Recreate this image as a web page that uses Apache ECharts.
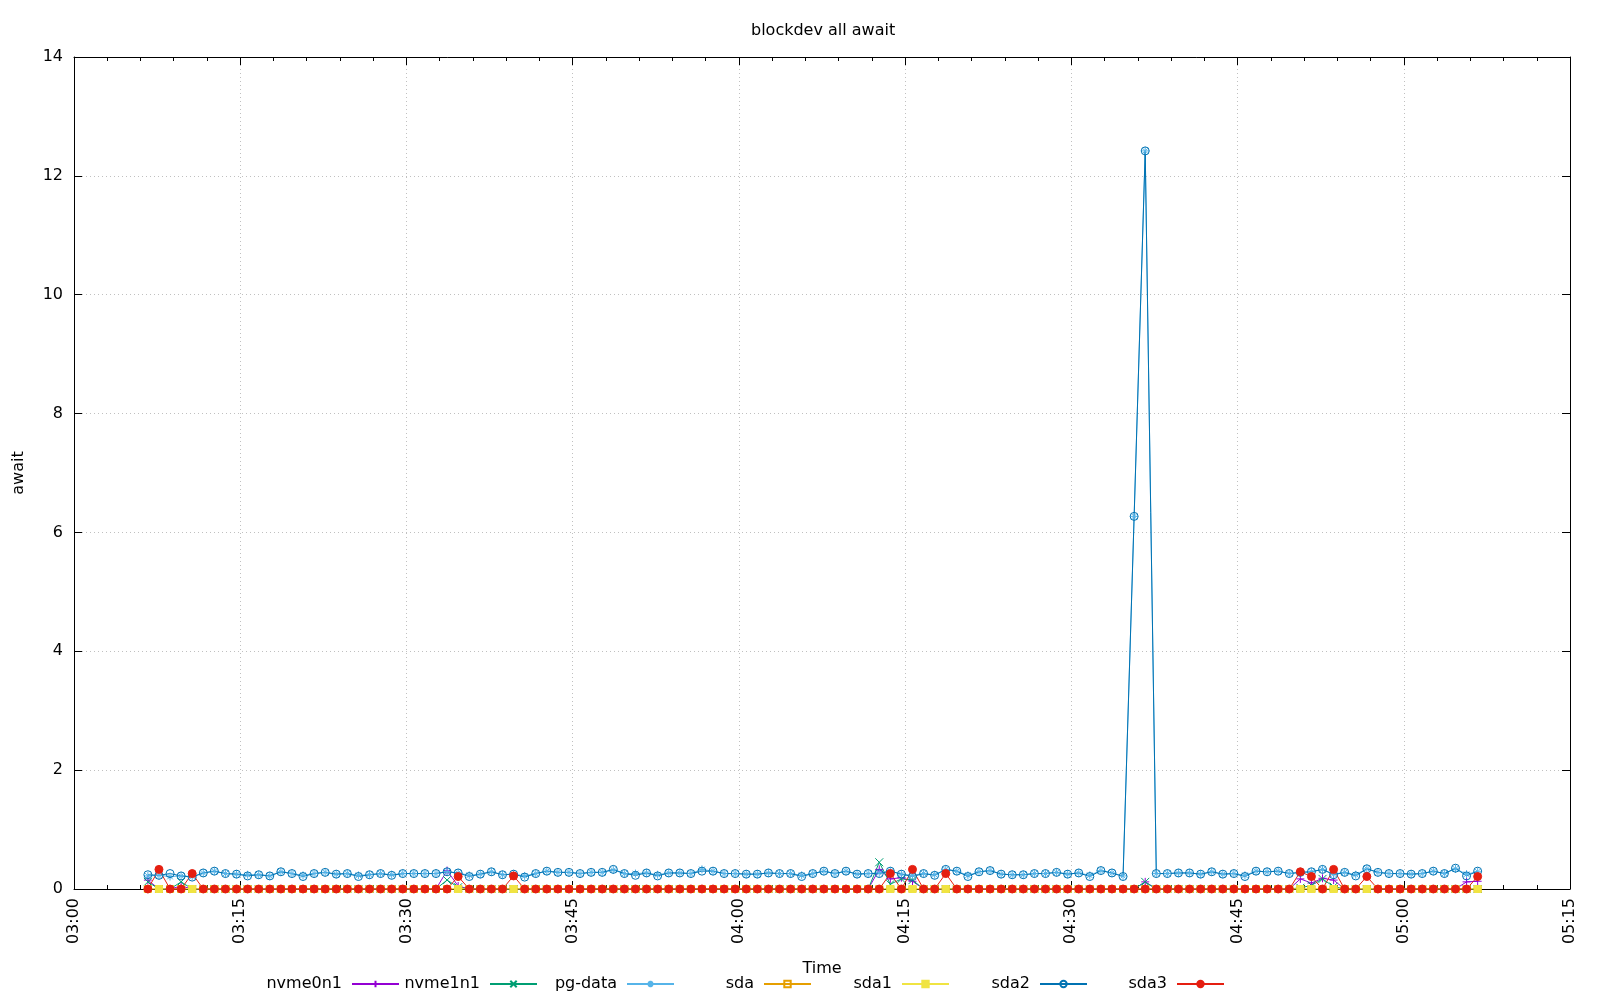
<!DOCTYPE html>
<html>
<head>
<meta charset="utf-8">
<title>blockdev all await</title>
<script src="https://cdn.jsdelivr.net/npm/echarts@6/dist/echarts.min.js"></script>
<style>
  html, body { margin: 0; padding: 0; background: #ffffff; }
  #chart { width: 1600px; height: 1000px; }
</style>
</head>
<body>
<div id="chart"></div>
<script>
// samples every 60 s, first one at 03:06:40
const startTime = '03:06:40'
const stepSeconds = 60

const xTickLabels = ['03:00', '03:15', '03:30', '03:45', '04:00', '04:15', '04:30', '04:45', '05:00', '05:15']
const yTickLabels = [0, 2, 4, 6, 8, 10, 12, 14]

const seriesNames = ['nvme0n1', 'nvme1n1', 'pg-data', 'sda', 'sda1', 'sda2', 'sda3']
const colorList = ['#9400d3', '#009e73', '#56b4e9', '#e69f00', '#f0e442', '#0072b2', '#e51e10']

const nvme0n1 = [
  0.15, 0, 0, 0.05, 0, 0, 0, 0, 0, 0,
  0, 0, 0, 0, 0, 0, 0, 0, 0, 0,
  0, 0, 0, 0, 0, 0, 0, 0.31, 0.05, 0,
  0, 0, 0, 0, 0, 0, 0, 0, 0, 0,
  0, 0, 0, 0, 0, 0, 0, 0, 0, 0,
  0, 0, 0, 0, 0, 0, 0, 0, 0, 0,
  0, 0, 0, 0, 0, 0, 0.33, 0.17, 0.19, 0.13,
  0, 0, 0, 0, 0, 0, 0, 0, 0, 0,
  0, 0, 0, 0, 0, 0, 0, 0, 0, 0,
  0.12, 0, 0, 0, 0, 0, 0, 0, 0, 0,
  0, 0, 0, 0, 0.17, 0.10, 0.18, 0.15, 0, 0,
  0, 0, 0, 0, 0, 0, 0, 0, 0, 0.12,
  0.13
]
const nvme1n1 = [
  0.12, 0, 0, 0.12, 0, 0, 0, 0, 0, 0,
  0, 0, 0, 0, 0, 0, 0, 0, 0, 0,
  0, 0, 0, 0, 0, 0, 0, 0.15, 0.03, 0,
  0, 0, 0, 0, 0, 0, 0, 0, 0, 0,
  0, 0, 0, 0, 0, 0, 0, 0, 0, 0,
  0, 0, 0, 0, 0, 0, 0, 0, 0, 0,
  0, 0, 0, 0, 0, 0, 0.45, 0.08, 0.17, 0.15,
  0, 0, 0, 0, 0, 0, 0, 0, 0, 0,
  0, 0, 0, 0, 0, 0, 0, 0, 0, 0,
  0.12, 0, 0, 0, 0, 0, 0, 0, 0, 0,
  0, 0, 0, 0, 0.02, 0.06, 0.17, 0.04, 0, 0,
  0, 0, 0, 0, 0, 0, 0, 0, 0, 0,
  0
]
const pgData = [
  0.22, 0.23, 0.21, 0.22, 0.21, 0.27, 0.30, 0.26, 0.25, 0.24,
  0.24, 0.22, 0.29, 0.26, 0.23, 0.26, 0.28, 0.25, 0.26, 0.23,
  0.24, 0.26, 0.24, 0.26, 0.26, 0.26, 0.26, 0.29, 0.27, 0.23,
  0.25, 0.29, 0.24, 0.25, 0.22, 0.26, 0.30, 0.28, 0.28, 0.26,
  0.28, 0.28, 0.32, 0.26, 0.26, 0.27, 0.24, 0.27, 0.27, 0.26,
  0.33, 0.30, 0.26, 0.26, 0.25, 0.25, 0.27, 0.26, 0.26, 0.23,
  0.26, 0.30, 0.26, 0.30, 0.25, 0.26, 0.27, 0.30, 0.25, 0.23,
  0.26, 0.24, 0.33, 0.30, 0.23, 0.29, 0.31, 0.25, 0.24, 0.24,
  0.26, 0.26, 0.28, 0.25, 0.27, 0.23, 0.31, 0.27, 0.22, 6.27,
  12.42, 0.26, 0.26, 0.27, 0.27, 0.25, 0.29, 0.25, 0.26, 0.23,
  0.30, 0.29, 0.30, 0.26, 0.28, 0.29, 0.33, 0.25, 0.28, 0.24,
  0.34, 0.28, 0.26, 0.26, 0.25, 0.26, 0.30, 0.26, 0.34, 0.25,
  0.29
]
const sda = [
  0, 0, 0, 0, 0, 0, 0, 0, 0, 0,
  0, 0, 0, 0, 0, 0, 0, 0, 0, 0,
  0, 0, 0, 0, 0, 0, 0, 0, 0, 0,
  0, 0, 0, 0, 0, 0, 0, 0, 0, 0,
  0, 0, 0, 0, 0, 0, 0, 0, 0, 0,
  0, 0, 0, 0, 0, 0, 0, 0, 0, 0,
  0, 0, 0, 0, 0, 0, 0, 0, 0, 0,
  0, 0, 0, 0, 0, 0, 0, 0, 0, 0,
  0, 0, 0, 0, 0, 0, 0, 0, 0, 0,
  0, 0, 0, 0, 0, 0, 0, 0, 0, 0,
  0, 0, 0, 0, 0, 0, 0, 0, 0, 0,
  0, 0, 0, 0, 0, 0, 0, 0, 0, 0,
  0
]
const sda1 = [
  0, 0, 0, 0, 0, 0, 0, 0, 0, 0,
  0, 0, 0, 0, 0, 0, 0, 0, 0, 0,
  0, 0, 0, 0, 0, 0, 0, 0, 0, 0,
  0, 0, 0, 0, 0, 0, 0, 0, 0, 0,
  0, 0, 0, 0, 0, 0, 0, 0, 0, 0,
  0, 0, 0, 0, 0, 0, 0, 0, 0, 0,
  0, 0, 0, 0, 0, 0, 0, 0, 0, 0,
  0, 0, 0, 0, 0, 0, 0, 0, 0, 0,
  0, 0, 0, 0, 0, 0, 0, 0, 0, 0,
  0, 0, 0, 0, 0, 0, 0, 0, 0, 0,
  0, 0, 0, 0, 0, 0, 0, 0, 0, 0,
  0, 0, 0, 0, 0, 0, 0, 0, 0, 0,
  0
]
const sda2 = [
  0.24, 0.23, 0.26, 0.22, 0.20, 0.27, 0.30, 0.26, 0.25, 0.22,
  0.24, 0.22, 0.29, 0.26, 0.21, 0.26, 0.28, 0.25, 0.26, 0.21,
  0.24, 0.26, 0.23, 0.26, 0.26, 0.26, 0.26, 0.29, 0.27, 0.21,
  0.25, 0.29, 0.24, 0.25, 0.20, 0.26, 0.30, 0.28, 0.28, 0.26,
  0.28, 0.28, 0.33, 0.26, 0.23, 0.27, 0.22, 0.27, 0.27, 0.26,
  0.30, 0.30, 0.26, 0.26, 0.25, 0.25, 0.27, 0.26, 0.26, 0.21,
  0.26, 0.30, 0.26, 0.30, 0.25, 0.26, 0.26, 0.30, 0.25, 0.21,
  0.26, 0.23, 0.33, 0.30, 0.21, 0.29, 0.31, 0.25, 0.24, 0.24,
  0.26, 0.26, 0.28, 0.25, 0.27, 0.21, 0.31, 0.27, 0.21, 6.27,
  12.42, 0.26, 0.26, 0.27, 0.27, 0.25, 0.29, 0.25, 0.26, 0.21,
  0.30, 0.29, 0.30, 0.26, 0.28, 0.29, 0.33, 0.24, 0.28, 0.22,
  0.34, 0.28, 0.26, 0.26, 0.25, 0.26, 0.30, 0.26, 0.35, 0.22,
  0.30
]
const sda3 = [
  0, 0.33, 0, 0, 0.26, 0, 0, 0, 0, 0,
  0, 0, 0, 0, 0, 0, 0, 0, 0, 0,
  0, 0, 0, 0, 0, 0, 0, 0, 0.21, 0,
  0, 0, 0, 0.22, 0, 0, 0, 0, 0, 0,
  0, 0, 0, 0, 0, 0, 0, 0, 0, 0,
  0, 0, 0, 0, 0, 0, 0, 0, 0, 0,
  0, 0, 0, 0, 0, 0, 0, 0.26, 0, 0.33,
  0, 0, 0.26, 0, 0, 0, 0, 0, 0, 0,
  0, 0, 0, 0, 0, 0, 0, 0, 0, 0,
  0, 0, 0, 0, 0, 0, 0, 0, 0, 0,
  0, 0, 0, 0, 0.29, 0.21, 0, 0.33, 0, 0,
  0.21, 0, 0, 0, 0, 0, 0, 0, 0, 0,
  0.21
]
const seriesValues = [nvme0n1, nvme1n1, pgData, sda, sda1, sda2, sda3]

// gnuplot point types
const symbols = [
  'path://M0 5H10M5 0V10',
  'path://M0 0L10 10M10 0L0 10',
  'path://M0 5H10M5 0V10M1.5 1.5L8.5 8.5M8.5 1.5L1.5 8.5',
  'rect',
  'rect',
  'circle',
  'circle'
]
const hollow = [true, true, true, true, false, true, false]
const symbolSizes = [8, 8, 8, 7, 7, 8, 8]
// right edge offsets of each legend entry
const legendRight = [1195, 1057, 920, 783, 645, 507, 370]

const FONT = 'DejaVu Sans'

function toMinutes(t) {
  const p = t.split(':').map(Number)
  return (p[0] - 3) * 60 + p[1] + (p[2] || 0) / 60
}
function fmtTime(v) {
  const total = Math.round(180 + v)
  const h = Math.floor(total / 60)
  const m = total % 60
  return String(h).padStart(2, '0') + ':' + String(m).padStart(2, '0')
}

const x0 = toMinutes(startTime)
const xMin = toMinutes(xTickLabels[0])
const xMax = toMinutes(xTickLabels[xTickLabels.length - 1])

const chart = echarts.init(document.getElementById('chart'))

const series = seriesNames.map((name, k) => ({
  name,
  type: 'line',
  xAxisIndex: 0,
  yAxisIndex: 0,
  symbol: symbols[k],
  symbolSize: symbolSizes[k],
  showAllSymbol: true,
  animation: false,
  lineStyle: { color: colorList[k], width: 1 },
  itemStyle: {
    color: hollow[k] ? 'rgba(0,0,0,0)' : colorList[k],
    borderColor: colorList[k],
    borderWidth: 1
  },
  emphasis: { disabled: true },
  data: seriesValues[k].map((v, i) => [x0 + i * stepSeconds / 60, v])
}))

const legends = seriesNames.map((name, k) => ({
  data: [name],
  right: legendRight[k],
  top: 971,
  align: 'right',
  itemWidth: 47,
  itemHeight: 8,
  selectedMode: false,
  textStyle: { fontFamily: FONT, fontSize: 16, color: '#000000', padding: [0, 5, 0, 0] }
}))

const axisLine = { show: true, onZero: false, lineStyle: { color: '#000000', width: 1 } }
const gridLine = { show: true, lineStyle: { color: '#c0c0c0', width: 1, type: [1, 3] } }

chart.setOption({
  backgroundColor: '#ffffff',
  animation: false,
  title: {
    text: 'blockdev all await',
    left: 746,
    top: 18,
    textStyle: { fontFamily: FONT, fontSize: 16, fontWeight: 'normal', color: '#000000' }
  },
  legend: legends,
  grid: {
    left: 74,
    right: 30,
    top: 57,
    bottom: 111,
    containLabel: false
  },
  xAxis: [{
    type: 'value',
    min: xMin,
    max: xMax,
    interval: 15,
    name: 'Time',
    nameLocation: 'middle',
    nameGap: 72,
    nameTextStyle: { fontFamily: FONT, fontSize: 16, color: '#000000' },
    axisLine,
    axisTick: { show: true, inside: true, length: 8, lineStyle: { color: '#000000' } },
    minorTick: { show: true, splitNumber: 5, length: 4, lineStyle: { color: '#000000' } },
    axisLabel: {
      rotate: 90,
      margin: 9,
      fontFamily: FONT,
      fontSize: 16,
      color: '#000000',
      formatter: v => fmtTime(v)
    },
    splitLine: gridLine
  }, {
    type: 'value',
    position: 'top',
    min: xMin,
    max: xMax,
    interval: 15,
    axisLine,
    axisTick: { show: true, inside: true, length: 8, lineStyle: { color: '#000000' } },
    minorTick: { show: true, splitNumber: 5, length: 4, lineStyle: { color: '#000000' } },
    axisLabel: { show: false },
    splitLine: { show: false }
  }],
  yAxis: [{
    type: 'value',
    min: yTickLabels[0],
    max: yTickLabels[yTickLabels.length - 1],
    interval: 2,
    name: 'await',
    nameLocation: 'middle',
    nameGap: 47,
    nameTextStyle: { fontFamily: FONT, fontSize: 16, color: '#000000' },
    axisLine,
    axisTick: { show: true, inside: true, length: 8, lineStyle: { color: '#000000' } },
    axisLabel: { margin: 11, fontFamily: FONT, fontSize: 16, color: '#000000' },
    splitLine: gridLine
  }, {
    type: 'value',
    position: 'right',
    min: yTickLabels[0],
    max: yTickLabels[yTickLabels.length - 1],
    interval: 2,
    axisLine,
    axisTick: { show: true, inside: true, length: 8, lineStyle: { color: '#000000' } },
    axisLabel: { show: false },
    splitLine: { show: false }
  }],
  series
})
</script>
</body>
</html>
